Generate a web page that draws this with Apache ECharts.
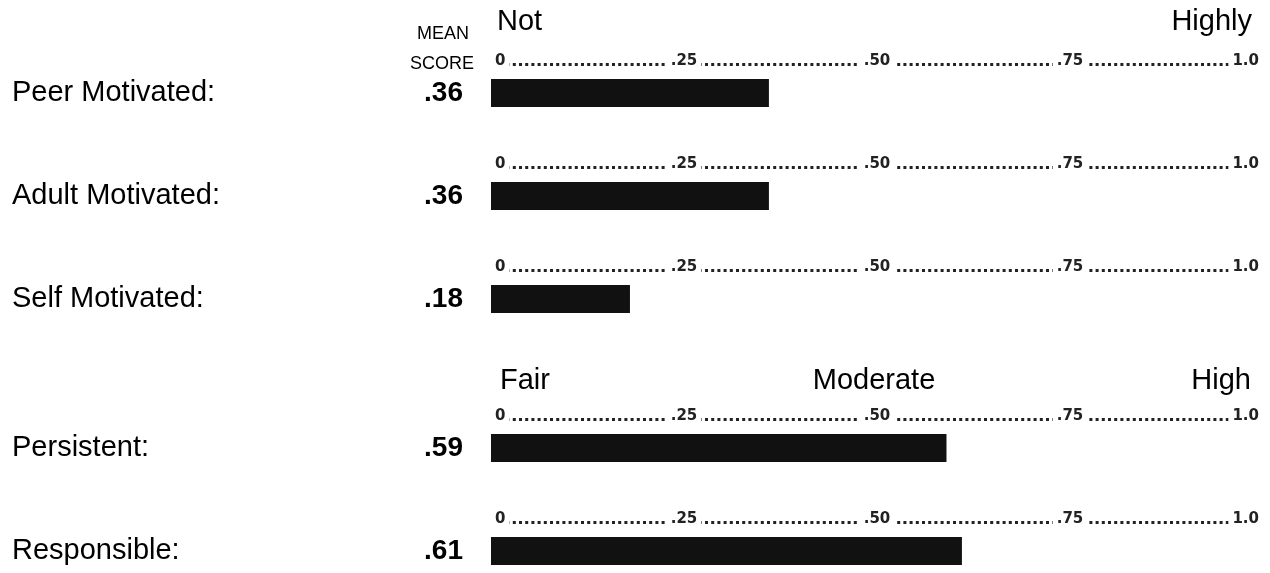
<!DOCTYPE html>
<html>
<head>
<meta charset="utf-8">
<script src="https://cdn.jsdelivr.net/npm/echarts@6/dist/echarts.min.js"></script>
<style>
  html, body { margin: 0; padding: 0; background: #fff; }
  #main { width: 1270px; height: 573px; }
</style>
</head>
<body>
<div id="main"></div>
<script>
// data
var categories = ['Peer Motivated:', 'Adult Motivated:', 'Self Motivated:', 'Persistent:', 'Responsible:'];
var meanScores = [0.36, 0.36, 0.18, 0.59, 0.61];
var tickLabels = ['0', '.25', '.50', '.75', '1.0'];
var motivationAnchors = ['Not', 'Highly'];
var traitAnchors = ['Fair', 'Moderate', 'High'];
var scoreHeader = ['MEAN', 'SCORE'];

// layout: top of each bar row
var rowTops = [79, 182, 285, 434, 537];

var chart = echarts.init(document.getElementById('main'));

var grids = [], xAxes = [], yAxes = [], series = [];
for (var i = 0; i < categories.length; i++) {
    grids.push({ left: 491, width: 772, top: rowTops[i], height: 28 });
    xAxes.push({
        gridIndex: i,
        type: 'value',
        position: 'top',
        offset: 15,
        min: 0,
        max: 1,
        interval: 0.25,
        splitLine: { show: false },
        axisTick: { show: false },
        axisLine: {
            show: true,
            lineStyle: { color: '#222', width: 3, type: [3, 3.2], cap: 'butt', dashOffset: 3 }
        },
        axisLabel: {
            formatter: function (v) { return tickLabels[Math.round(v * 4)]; },
            fontFamily: 'DejaVu Sans',
            fontWeight: 'bold',
            fontSize: 15,
            color: '#222',
            margin: -5,
            backgroundColor: '#fff',
            padding: [0, 4],
            alignMinLabel: 'left',
            alignMaxLabel: 'right'
        }
    });
    yAxes.push({
        gridIndex: i,
        type: 'category',
        data: [categories[i]],
        axisLine: { show: false },
        axisTick: { show: false },
        axisLabel: {
            align: 'left',
            margin: 479,
            fontFamily: 'Liberation Sans',
            fontSize: 29,
            color: '#000'
        }
    });
    series.push({
        type: 'bar',
        xAxisIndex: i,
        yAxisIndex: i,
        data: [meanScores[i]],
        barWidth: '100%',
        silent: true,
        itemStyle: { color: '#111' },
        label: {
            show: true,
            position: 'left',
            distance: 28,
            formatter: function (p) { return p.value.toFixed(2).replace(/^0/, ''); },
            fontFamily: 'Liberation Sans',
            fontWeight: 'bold',
            fontSize: 28,
            color: '#000'
        }
    });
}

function txt(s, x, y, size, align) {
    return {
        type: 'text',
        x: x,
        y: y,
        style: {
            text: s,
            font: size + 'px "Liberation Sans"',
            fill: '#000',
            textAlign: align,
            textVerticalAlign: 'middle'
        }
    };
}

var graphics = [
    txt(scoreHeader[0], 443, 34, 18, 'center'),
    txt(scoreHeader[1], 442, 64, 18, 'center'),
    txt(motivationAnchors[0], 497, 22, 29, 'left'),
    txt(motivationAnchors[1], 1252, 22, 29, 'right'),
    txt(traitAnchors[0], 500, 381, 29, 'left'),
    txt(traitAnchors[1], 874, 381, 29, 'center'),
    txt(traitAnchors[2], 1251, 381, 29, 'right')
];

chart.setOption({
    animation: false,
    backgroundColor: '#fff',
    grid: grids,
    xAxis: xAxes,
    yAxis: yAxes,
    series: series,
    graphic: graphics
});
</script>
</body>
</html>
